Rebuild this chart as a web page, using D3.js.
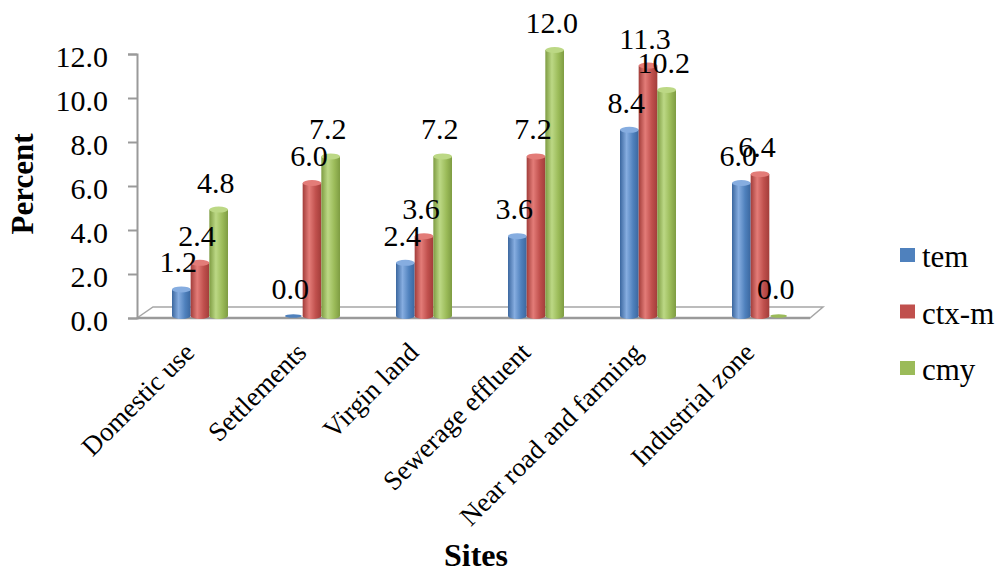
<!DOCTYPE html>
<html>
<head>
<meta charset="utf-8">
<script src="https://cdn.jsdelivr.net/npm/d3@7"></script>
</head>
<body style="margin:0">
<svg id="fig" width="1003" height="579"></svg>
<script>
// Site categories and percentages per gene
const sites = ["Domestic use", "Settlements", "Virgin land", "Sewerage effluent", "Near road and farming", "Industrial zone"];
const seriesNames = ["tem", "ctx-m", "cmy"];
const temValues = [1.2, 0.0, 2.4, 3.6, 8.4, 6.0];
const ctxmValues = [2.4, 6.0, 3.6, 7.2, 11.3, 6.4];
const cmyValues = [4.8, 7.2, 7.2, 12.0, 10.2, 0.0];
const yTicks = [0, 2, 4, 6, 8, 10, 12];

const seriesValues = [temValues, ctxmValues, cmyValues];
const palette = [
  { base: "#4F81BD", light: "#86ade0", dark: "#3b679f" },
  { base: "#C0504D", light: "#e37c78", dark: "#a23d3a" },
  { base: "#9BBB59", light: "#bcd885", dark: "#7e9c42" }
];
const textFont = "Times New Roman";

const svg = d3.select("#fig");
const defs = svg.append("defs");

// Horizontal shading that gives each bar a cylinder look
palette.forEach((c, i) => {
  const g = defs.append("linearGradient").attr("id", "cyl" + i)
    .attr("x1", "0%").attr("x2", "100%").attr("y1", "0%").attr("y2", "0%");
  g.append("stop").attr("offset", "0%").attr("stop-color", c.dark);
  g.append("stop").attr("offset", "35%").attr("stop-color", c.light);
  g.append("stop").attr("offset", "70%").attr("stop-color", c.base);
  g.append("stop").attr("offset", "100%").attr("stop-color", c.dark);
});

// Axis geometry
const axisX = 137;
const floorFront = 318, floorBack = 307, depthDx = 16;
const floorRight = 810;

const yAxisScale = d3.scaleLinear().domain([0, 12]).range([floorFront, 54]);
// Bars stand on the middle of the floor, slightly behind the front edge
const yBar = d3.scaleLinear().domain([0, 12]).range([316, 50]);

const x0 = d3.scaleBand().domain(sites).range([144, 816]).paddingInner(0.5).paddingOuter(0.25);
const x1 = d3.scaleBand().domain(seriesNames).range([0, x0.bandwidth()]);

// Floor
svg.append("path")
  .attr("d", d3.line()([[axisX, floorFront], [axisX + depthDx, floorBack], [floorRight + 13, floorBack], [floorRight, floorFront]]) + "Z")
  .attr("fill", "#fff").attr("stroke", "#a6a6a6").attr("stroke-width", 1.5);
svg.append("line")
  .attr("x1", axisX).attr("x2", floorRight).attr("y1", floorFront).attr("y2", floorFront)
  .attr("stroke", "#9a9a9a").attr("stroke-width", 2.5);

// Y axis
const yAxis = d3.axisLeft(yAxisScale).tickValues(yTicks).tickFormat(d3.format(".1f")).tickSize(9).tickPadding(20);
const yg = svg.append("g").attr("transform", `translate(${axisX},0)`).call(yAxis)
  .attr("font-family", textFont).attr("font-size", 30);
yg.select(".domain").attr("stroke", "#9a9a9a").attr("stroke-width", 2);
yg.selectAll(".tick line").attr("stroke", "#9a9a9a").attr("stroke-width", 2);
yg.selectAll(".tick text").attr("fill", "#000").attr("dy", "0.4em");

// Bars drawn as cylinders
const ry = 3;
const groups = svg.append("g").attr("font-family", textFont)
  .selectAll("g.site").data(sites).join("g")
  .attr("class", "site").attr("transform", d => `translate(${x0(d)},0)`);

const barData = (site, si) => seriesNames.map((s, k) => ({ site, series: s, k, value: seriesValues[k][si] }));

groups.each(function (site, si) {
  const g = d3.select(this);
  const bars = barData(site, si);
  const w = x1.bandwidth();
  bars.forEach(b => {
    const bx = x1(b.series);
    const top = yBar(b.value), base = yBar(0);
    const c = palette[b.k];
    if (b.value > 0) {
      g.append("ellipse").attr("cx", bx + w / 2).attr("cy", base).attr("rx", w / 2).attr("ry", ry)
        .attr("fill", `url(#cyl${b.k})`);
      g.append("rect").attr("x", bx).attr("y", top).attr("width", w).attr("height", base - top)
        .attr("fill", `url(#cyl${b.k})`);
      g.append("ellipse").attr("cx", bx + w / 2).attr("cy", top).attr("rx", w / 2).attr("ry", ry)
        .attr("fill", c.light);
    } else {
      g.append("ellipse").attr("cx", bx + w / 2).attr("cy", base).attr("rx", w / 2 - 1).attr("ry", 1.8)
        .attr("fill", c.base);
    }
  });
  // Value labels
  bars.forEach(b => {
    g.append("text")
      .attr("x", x1(b.series) + w / 2 - 3)
      .attr("y", yBar(b.value) - 17)
      .attr("text-anchor", "middle")
      .attr("font-family", textFont).attr("font-size", 30)
      .text(d3.format(".1f")(b.value));
  });
});

// Category labels
svg.append("g").attr("font-family", textFont).selectAll("text").data(sites).join("text")
  .attr("transform", d => `translate(${x0(d) + x0.bandwidth() / 2 - 4},${354}) rotate(-45)`)
  .attr("text-anchor", "end")
  .attr("font-size", 27)
  .text(d => d);

// Axis titles
svg.append("text")
  .attr("transform", "translate(33,184) rotate(-90)")
  .attr("text-anchor", "middle").attr("font-weight", "bold")
  .attr("font-family", textFont).attr("font-size", 31)
  .text("Percent");
svg.append("text")
  .attr("x", 476).attr("y", 566)
  .attr("text-anchor", "middle").attr("font-weight", "bold")
  .attr("font-family", textFont).attr("font-size", 32)
  .text("Sites");

// Legend
const legend = svg.append("g").attr("font-family", textFont).selectAll("g").data(seriesNames).join("g")
  .attr("transform", (d, i) => `translate(900,${248 + i * 56.5})`);
legend.append("rect").attr("width", 15).attr("height", 14).attr("fill", (d, i) => palette[i].base);
legend.append("text").attr("x", 22).attr("y", 19)
  .attr("font-size", 31).text(d => d);
</script>
</body>
</html>
